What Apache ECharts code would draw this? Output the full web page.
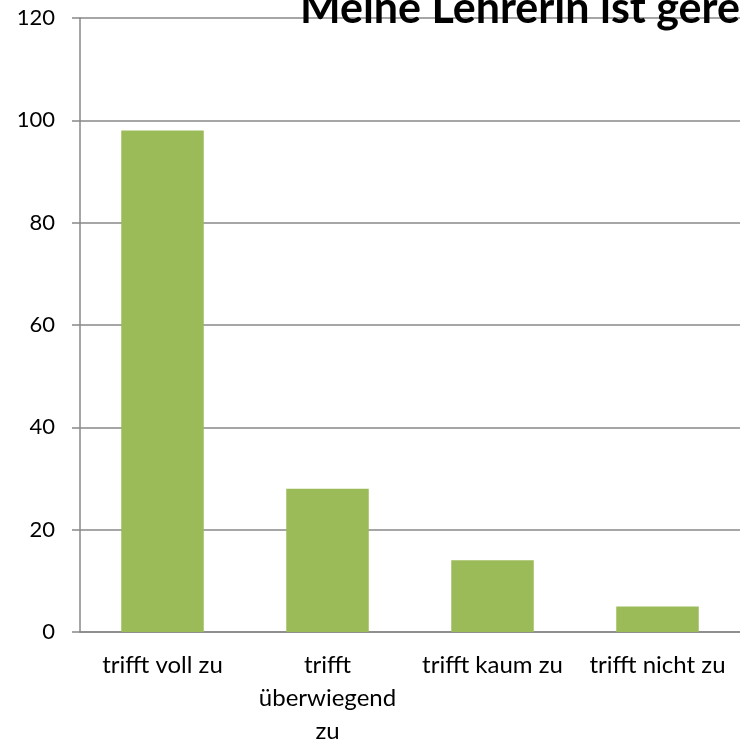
<!DOCTYPE html>
<html>
<head>
<meta charset="utf-8">
<script src="https://cdn.jsdelivr.net/npm/echarts@6/dist/echarts.min.js"></script>
<style>
  html, body { margin: 0; padding: 0; background: #fff; }
  #main { width: 740px; height: 748px; }
</style>
</head>
<body>
<div id="main"></div>
<script>
// Balkendiagramm: Meine Lehrerin ist gerecht
var categories = ['trifft voll zu', 'trifft\nüberwiegend\nzu', 'trifft kaum zu', 'trifft nicht zu'];
var values = [98, 28, 14, 5];
var titleText = 'Meine Lehrerin ist gerecht';

var myChart = echarts.init(document.getElementById('main'));

var option = {
  animation: false,
  title: {
    text: titleText,
    left: 295,
    top: -17,
    textStyle: {
      fontFamily: 'Lato',
      fontWeight: 'bold',
      fontSize: 43,
      color: '#000'
    }
  },
  grid: {
    left: 80,
    right: 0,
    top: 18,
    bottom: 115
  },
  xAxis: {
    type: 'category',
    data: categories,
    axisLine: { lineStyle: { color: '#888', width: 1.5 } },
    axisTick: { length: 11, lineStyle: { color: '#888', width: 1.5 } },
    axisLabel: {
      interval: 0,
      margin: 17,
      color: '#000',
      fontFamily: 'Lato',
      fontSize: 24,
      lineHeight: 33
    }
  },
  yAxis: {
    type: 'value',
    min: 0,
    max: 120,
    interval: 20,
    axisLine: { show: true, lineStyle: { color: '#888', width: 1.5 } },
    axisTick: { show: true, length: 8, lineStyle: { color: '#888', width: 1.5 } },
    splitLine: { lineStyle: { color: '#888', width: 1.5 } },
    axisLabel: {
      margin: 25,
      color: '#000',
      fontFamily: 'Lato',
      fontSize: 22
    }
  },
  series: [
    {
      type: 'bar',
      data: values,
      barWidth: '50%',
      itemStyle: { color: '#9BBB59' }
    }
  ]
};

myChart.setOption(option);
</script>
</body>
</html>
